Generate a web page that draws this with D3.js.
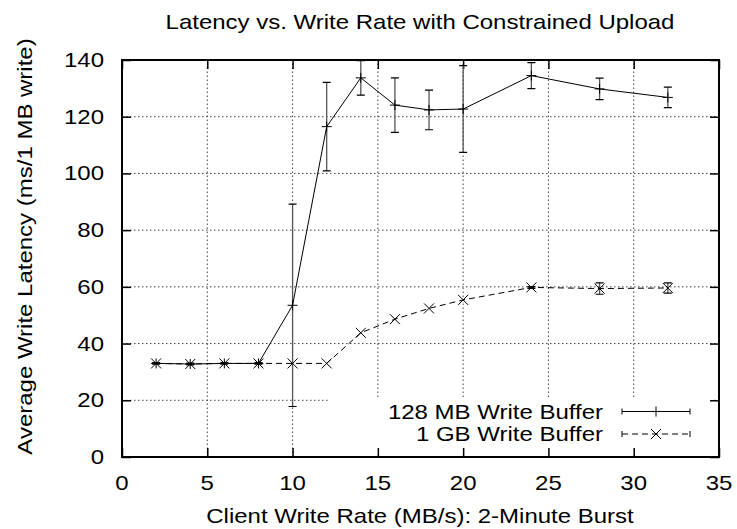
<!DOCTYPE html>
<html>
<head>
<meta charset="utf-8">
<script src="https://cdn.jsdelivr.net/npm/d3@7"></script>
<style>
  body { margin: 0; background: #fff; }
  svg text { font-family: "Liberation Sans", Arial, Helvetica, sans-serif; fill: #000; }
</style>
</head>
<body>
<div id="chart"></div>
<script>
// data
var rates = [2, 4, 6, 8, 10, 12, 14, 16, 18, 20, 24, 28, 32];
var buf128 = [33, 32.8, 33, 33, 53.5, 116.5, 133.7, 124.1, 122.4, 122.7, 134.5, 129.8, 126.8];
var buf128Err = [0.3, 0.3, 0.3, 0.3, 35.7, 15.6, 6.1, 9.6, 7, 15.3, 4.6, 3.8, 3.6];
var buf1g = [33, 32.8, 33, 33, 33, 33, 43.8, 48.6, 52.4, 55.4, 59.8, 59.4, 59.6];
var buf1gErr = [0, 0, 0, 0, 0, 0, 0, 0, 0, 0, 0.3, 2, 1.8];
var xTicks = [0, 5, 10, 15, 20, 25, 30, 35];
var yTicks = [0, 20, 40, 60, 80, 100, 120, 140];
var seriesNames = ["128 MB Write Buffer", "1 GB Write Buffer"];

function init() {
    var W = 737, H = 529;
    var margin = { top: 60, right: 18, bottom: 72, left: 122 };
    var w = W - margin.left - margin.right;
    var h = H - margin.top - margin.bottom;
    var sx = 1.2; // the fonts in the picture are drawn wider than normal

    var svg = d3.select("#chart").append("svg")
        .attr("width", W)
        .attr("height", H);

    var x = d3.scaleLinear().domain([0, 35]).range([margin.left, margin.left + w]);
    var y = d3.scaleLinear().domain([0, 140]).range([margin.top + h, margin.top]);

    function label(txt, px, py, anchor, rot) {
        return svg.append("text")
            .attr("transform", "translate(" + px + "," + py + ")" + (rot ? " rotate(" + rot + ")" : "") + " scale(" + sx + ",1)")
            .attr("text-anchor", anchor)
            .style("font-size", "20px")
            .text(txt);
    }

    // grid
    var grid = svg.append("g");
    grid.selectAll(".gx")
        .data(xTicks.slice(1, -1))
        .join("line")
        .attr("x1", d => x(d)).attr("x2", d => x(d))
        .attr("y1", y(0)).attr("y2", y(140))
        .attr("stroke", "#444").attr("stroke-width", 1)
        .attr("stroke-dasharray", "1.5,2.5");
    grid.selectAll(".gy")
        .data(yTicks.slice(1, -1))
        .join("line")
        .attr("y1", d => y(d)).attr("y2", d => y(d))
        .attr("x1", x(0)).attr("x2", x(35))
        .attr("stroke", "#444").attr("stroke-width", 1)
        .attr("stroke-dasharray", "1.5,2.5");

    // opaque key area
    svg.append("rect")
        .attr("x", 330).attr("y", 397)
        .attr("width", x(35) - 5 - 330).attr("height", y(0) - 2 - 397)
        .attr("fill", "#fff");

    // axes, ticks pointing inwards and mirrored
    var tk = 9;
    svg.append("g").attr("transform", "translate(0," + y(0) + ")")
        .call(d3.axisBottom(x).tickValues(xTicks).tickSize(-tk).tickPadding(tk + 10).tickFormat(""))
        .call(g => g.select(".domain").remove());
    svg.append("g").attr("transform", "translate(0," + y(140) + ")")
        .call(d3.axisTop(x).tickValues(xTicks).tickSize(-tk).tickFormat(""))
        .call(g => g.select(".domain").remove());
    svg.append("g").attr("transform", "translate(" + x(0) + ",0)")
        .call(d3.axisLeft(y).tickValues(yTicks).tickSize(-tk).tickFormat(""))
        .call(g => g.select(".domain").remove());
    svg.append("g").attr("transform", "translate(" + x(35) + ",0)")
        .call(d3.axisRight(y).tickValues(yTicks).tickSize(-tk).tickFormat(""))
        .call(g => g.select(".domain").remove());
    svg.selectAll(".tick line").attr("stroke", "#000").attr("stroke-width", 1.5);

    xTicks.forEach(function (d) { label(d, x(d), 490, "middle"); });
    yTicks.forEach(function (d) { label(d, 104, y(d) + 7, "end"); });

    svg.append("rect")
        .attr("x", x(0)).attr("y", y(140))
        .attr("width", x(35) - x(0)).attr("height", y(0) - y(140))
        .attr("fill", "none").attr("stroke", "#000").attr("stroke-width", 2);

    // series
    var series = [
        { name: seriesNames[0], vals: buf128, err: buf128Err, dash: null, mark: "plus" },
        { name: seriesNames[1], vals: buf1g, err: buf1gErr, dash: "6,4", mark: "cross" }
    ];
    var line = d3.line().x(d => x(d[0])).y(d => y(d[1]));
    var cap = 4, m = 5;

    function marker(g, type, cx, cy) {
        if (type === "plus") {
            g.append("path").attr("d", "M" + (cx - m) + "," + cy + "H" + (cx + m) + "M" + cx + "," + (cy - m) + "V" + (cy + m))
                .attr("stroke", "#000").attr("stroke-width", 1);
        } else {
            g.append("path").attr("d", "M" + (cx - m) + "," + (cy - m) + "L" + (cx + m) + "," + (cy + m) + "M" + (cx - m) + "," + (cy + m) + "L" + (cx + m) + "," + (cy - m))
                .attr("stroke", "#000").attr("stroke-width", 1);
        }
    }

    series.forEach(function (s) {
        var g = svg.append("g");
        var pts = rates.map((r, i) => [r, s.vals[i], s.err[i]]);
        pts.forEach(function (p) {
            if (p[2] <= 0) return;
            var top = Math.min(p[1] + p[2], 140);
            g.append("path")
                .attr("d", "M" + x(p[0]) + "," + y(p[1] - p[2]) + "V" + y(top))
                .attr("stroke", "#555").attr("stroke-width", 1.3);
            g.append("path")
                .attr("d", "M" + (x(p[0]) - cap) + "," + y(p[1] - p[2]) + "H" + (x(p[0]) + cap) +
                    (p[1] + p[2] <= 140 ? "M" + (x(p[0]) - cap) + "," + y(p[1] + p[2]) + "H" + (x(p[0]) + cap) : ""))
                .attr("stroke", "#000").attr("stroke-width", 1.2);
        });
        g.append("path")
            .datum(pts)
            .attr("d", line)
            .attr("fill", "none")
            .attr("stroke", "#000")
            .attr("stroke-width", 1)
            .attr("stroke-dasharray", s.dash);
        pts.forEach(p => marker(g, s.mark, x(p[0]), y(p[1])));
    });

    // key
    series.forEach(function (s, i) {
        var ky = 411.5 + i * 22.5;
        label(s.name, 603, ky + 7, "end");
        var g = svg.append("g");
        g.append("path")
            .attr("d", "M622," + ky + "H690")
            .attr("stroke", "#000").attr("stroke-width", 1)
            .attr("stroke-dasharray", s.dash);
        g.append("path")
            .attr("d", "M622," + (ky - 3) + "V" + (ky + 3) + "M690," + (ky - 3) + "V" + (ky + 3))
            .attr("stroke", "#000").attr("stroke-width", 1);
        marker(g, s.mark, 656, ky);
    });

    // titles
    label("Latency vs. Write Rate with Constrained Upload", 420, 29, "middle");
    label("Client Write Rate (MB/s): 2-Minute Burst", 420, 523, "middle");
    label("Average Write Latency (ms/1 MB write)", 32, 246.5, "middle", -90);
}

window.onload = init;
</script>
</body>
</html>
